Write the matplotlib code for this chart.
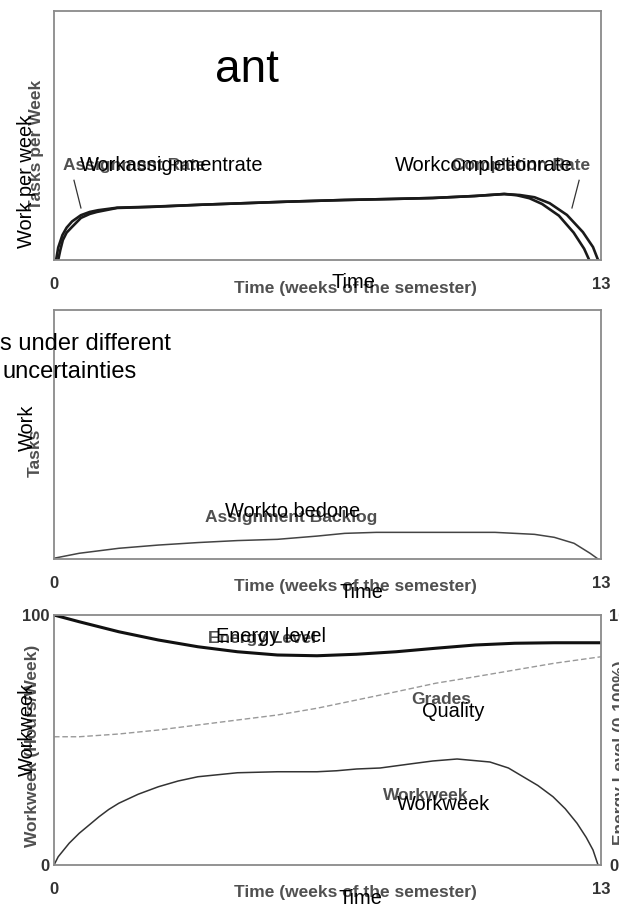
import matplotlib
matplotlib.use("Agg")
import matplotlib.pyplot as plt

# ---------------- data ----------------
weeks_range = [0, 13]
xtick_labels = ["0", "13"]
y3_ticks = [0, 100]
y3_tick_labels = ["0", "100"]

# Panel 1: rates (share of plot height, %)
t_assign = [0.05, 0.1, 0.2, 0.3, 0.43, 0.64, 0.85, 1.05, 1.5, 2.3, 3.5, 4.5, 5.5, 6.9,
            8.0, 9.0, 10.0, 10.7, 11.0, 11.3, 11.6, 12.0, 12.35, 12.6, 12.72]
assign_rate = [0, 5, 10, 13, 15.5, 18, 19.3, 20, 21, 21.4, 22.2, 22.8, 23.4, 24.1,
               24.5, 24.9, 25.7, 26.5, 26.0, 24.8, 22.5, 17.8, 11, 4.5, 0]
t_complete = [0.1, 0.15, 0.21, 0.3, 0.43, 0.64, 0.85, 1.02, 1.5, 2.3, 3.5, 4.5, 5.5, 6.9,
              8.0, 9.0, 10.0, 10.7, 11.07, 11.42, 11.78, 12.19, 12.57, 12.81, 12.93]
complete_rate = [0, 4, 8, 11, 13.3, 16.9, 18.5, 19.3, 20.9, 21.3, 22.2, 22.8, 23.4, 24.1,
                 24.5, 24.9, 25.7, 26.5, 26.1, 25.2, 22.8, 18.1, 11.2, 5.2, 0]

# Panel 2: backlog
t_backlog = [0, 0.6, 1.54, 2.48, 3.42, 4.36, 5.31, 6.25, 6.91, 7.66, 9.07, 10.48,
             11.42, 11.89, 12.36, 12.74, 12.93]
backlog = [0.3, 2.3, 4.3, 5.6, 6.6, 7.4, 7.9, 9.2, 10.3, 10.7, 10.7, 10.7,
           9.9, 8.7, 6.3, 2.3, 0]

# Panel 3
t_energy = [0, 0.6, 1.54, 2.48, 3.42, 4.36, 5.31, 6.25, 7.19, 8.13, 9.07, 10.01, 10.95, 11.89, 13]
energy = [100, 97.3, 93.3, 90, 87.3, 85.3, 84, 83.7, 84.3, 85.3, 86.7, 88, 88.7, 88.9, 88.9]

t_grades = [0, 0.6, 1.54, 2.48, 3.42, 4.36, 5.31, 6.25, 7.19, 8.13, 9.07, 10.01, 10.95, 11.89, 13]
grades = [51.3, 51.3, 52.4, 54, 56, 58, 60, 62.7, 66, 69.3, 72.7, 75.3, 78, 80.7, 83.3]

t_work = [0, 0.1, 0.36, 0.6, 0.85, 1.07, 1.3, 1.54, 2.0, 2.48, 2.95, 3.42, 4.36, 5.31, 6.25,
          6.72, 7.19, 7.75, 8.5, 9.0, 9.58, 10.36, 10.8, 11.15, 11.5, 11.86, 12.15, 12.43,
          12.65, 12.81, 12.93]
workweek = [0, 3.3, 8.7, 12.7, 16.2, 19.3, 22.2, 24.7, 28.3, 31.3, 33.6, 35.3, 36.9, 37.3,
            37.3, 37.7, 38.4, 38.8, 40.5, 41.6, 42.4, 41.2, 38.8, 35.3, 31.8, 27.3, 22.5,
            16.7, 11, 6, 0]

# ---------------- figure ----------------
W, H = 619, 914
fig = plt.figure(figsize=(W / 100, H / 100), dpi=100)
fig.patch.set_facecolor("white")


def axes_px(left, top, right, bottom):
    return fig.add_axes([left / W, 1 - bottom / H, (right - left) / W, (bottom - top) / H])


def fpx(x, y):
    return x / W, 1 - y / H


FAM = "Liberation Sans"
BLACK = dict(family=FAM, color="black", fontsize=14.4)
GRAY = dict(family=FAM, color="#505050", fontsize=12.5, fontweight="bold")
SPINE = "#8a8a8a"


def style(ax):
    ax.set_xlim(*weeks_range)
    ax.set_ylim(0, 100)
    for s in ax.spines.values():
        s.set_color(SPINE)
        s.set_linewidth(1.3)
    ax.set_xticks(weeks_range)
    ax.set_xticklabels(xtick_labels, family=FAM, fontweight="bold", color="#333333", fontsize=12)
    ax.tick_params(axis="x", length=0, pad=12)
    ax.set_yticks([])


# Panel 1
ax1 = axes_px(54, 11, 601, 260)
style(ax1)
ax1.plot(t_assign, assign_rate, color="#1a1a1a", lw=1.9)
ax1.plot(t_complete, complete_rate, color="#1a1a1a", lw=1.9)
ax1.plot([0.475, 0.64], [32, 20.9], color="#333333", lw=0.9)
ax1.plot([12.48, 12.31], [32, 20.9], color="#333333", lw=0.9)
ax1.text(0.21, 38, "Assignment Rate", ha="left", va="center", **GRAY)
ax1.text(0.62, 38, "Workassignmentrate", ha="left", va="center", **BLACK)
ax1.text(12.74, 38, "Completion Rate", ha="right", va="center", **GRAY)
ax1.text(8.1, 38, "Workcompletionrate", ha="left", va="center", **BLACK)
ax1.text(4.59, 71.5, "ant", ha="center", va="baseline", family=FAM, fontsize=33, color="black")

# Panel 2
ax2 = axes_px(54, 310, 601, 559)
style(ax2)
ax2.plot(t_backlog, backlog, color="#444444", lw=1.1)
ax2.text(5.64, 16.5, "Assignment Backlog", ha="center", va="center", **GRAY)
ax2.text(5.67, 19.0, "Workto bedone", ha="center", va="center", **BLACK)

# Panel 3
ax3 = axes_px(54, 615, 601, 865)
style(ax3)
ax3.set_yticks(y3_ticks)
ax3.set_yticklabels(y3_tick_labels, family=FAM, fontweight="bold", color="#333333", fontsize=12)
ax3.tick_params(axis="y", length=0, pad=3)
ax3.plot(t_energy, energy, color="#111111", lw=2.2)
ax3.plot(t_grades, grades, color="#999999", lw=1.0, dashes=(4, 2))
ax3.plot(t_work, workweek, color="#333333", lw=1.1)
ax3.text(3.66, 90.8, "Energy Level", ha="left", va="center", **GRAY)
ax3.text(3.85, 91.2, "Energy level", ha="left", va="center", **BLACK)
ax3.text(8.5, 66, "Grades", ha="left", va="center", **GRAY)
ax3.text(8.75, 61.5, "Quality", ha="left", va="center", **BLACK)
ax3.text(7.82, 28, "Workweek", ha="left", va="center", **GRAY)
ax3.text(8.15, 24, "Workweek", ha="left", va="center", **BLACK)

ax3r = ax3.twinx()
ax3r.set_ylim(0, 100)
ax3r.set_yticks(y3_ticks)
ax3r.set_yticklabels(y3_tick_labels, family=FAM, fontweight="bold", color="#333333", fontsize=12)
ax3r.tick_params(axis="y", length=0, pad=6)
for s in ax3r.spines.values():
    s.set_visible(False)

# axis titles (scanned gray + black overlay)
for ytop in (288, 587, 892):
    fig.text(*fpx(355, ytop), "Time (weeks of the semester)", ha="center", va="center", **GRAY)
fig.text(*fpx(353, 283), "Time", ha="center", va="center", **BLACK)
fig.text(*fpx(361, 593), "Time", ha="center", va="center", **BLACK)
fig.text(*fpx(360, 898), "Time", ha="center", va="center", **BLACK)

fig.text(*fpx(37, 145), "Tasks per Week", rotation=90, ha="center", va="center", **GRAY)
fig.text(*fpx(26, 181), "Work per week", rotation=90, ha="center", va="center", **BLACK)
fig.text(*fpx(35, 453), "Tasks", rotation=90, ha="center", va="center", **GRAY)
fig.text(*fpx(27, 428), "Work", rotation=90, ha="center", va="center", **BLACK)
fig.text(*fpx(33, 746), "Workweek (Hours/Week)", rotation=90, ha="center", va="center", **GRAY)
fig.text(*fpx(27, 729), "Workweek", rotation=90, ha="center", va="center", **BLACK)
fig.text(*fpx(613, 753), "Energy Level (0-100%)", rotation=90, ha="left", va="center", **GRAY)

fig.text(*fpx(0, 350), "s under different", ha="left", va="baseline", family=FAM, fontsize=17, color="black")
fig.text(*fpx(2, 378), "uncertainties", ha="left", va="baseline", family=FAM, fontsize=17, color="black")

fig.savefig("out.png", dpi=100)
